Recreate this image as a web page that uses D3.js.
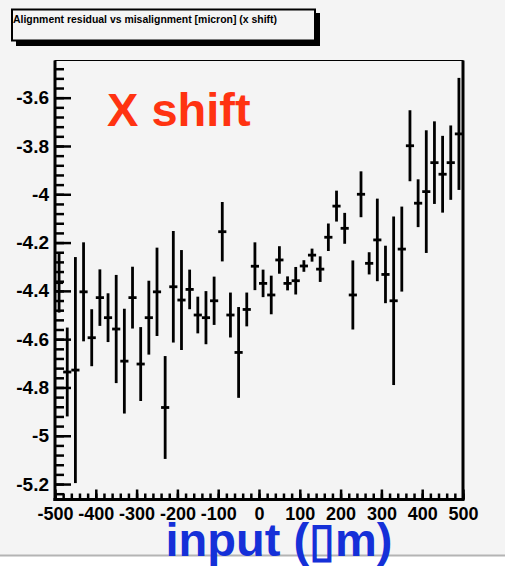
<!DOCTYPE html>
<html>
<head>
<meta charset="utf-8">
<script src="https://cdn.jsdelivr.net/npm/d3@7/dist/d3.min.js"></script>
<style>
  html, body { margin: 0; padding: 0; background: #ffffff; }
  svg { display: block; }
  text { font-family: "Liberation Sans", Arial, Helvetica, sans-serif; }
</style>
</head>
<body>
<script>
// ---------- data ----------
const title = "Alignment residual vs misalignment [micron] (x shift)";
const annotation = "X shift";
const xTitle = "input (\u25AFm)";
const xInput = [-490,-470,-450,-430,-410,-390,-370,-350,-330,-310,
                -290,-270,-250,-230,-210,-190,-170,-150,-130,-110,
                -90,-70,-50,-30,-10,10,30,50,70,90,
                110,130,150,170,190,210,230,250,270,290,
                310,330,350,370,390,410,430,450,470,490];
const xErr = [10,10,10,10,10,10,10,10,10,10,10,10,10,10,10,10,10,10,10,10,10,10,10,10,10,
              10,10,10,10,10,10,10,10,10,10,10,10,10,10,10,10,10,10,10,10,10,10,10,10,10];
const residual = [-4.366,-4.736,-4.728,-4.404,-4.594,-4.428,-4.511,-4.558,-4.691,-4.428,
                  -4.703,-4.511,-4.404,-4.883,-4.383,-4.438,-4.394,-4.500,-4.511,-4.441,
                  -4.155,-4.500,-4.655,-4.477,-4.298,-4.369,-4.417,-4.272,-4.369,-4.358,
                  -4.297,-4.252,-4.310,-4.178,-4.049,-4.141,-4.417,-4.000,-4.286,-4.189,
                  -4.332,-4.441,-4.227,-3.799,-4.037,-3.989,-3.869,-3.917,-3.869,-3.750];
const residualErr = [0.124,0.184,0.468,0.205,0.118,0.117,0.101,0.224,0.217,0.128,
                     0.153,0.153,0.183,0.213,0.231,0.207,0.082,0.076,0.110,0.100,
                     0.123,0.093,0.188,0.070,0.099,0.057,0.080,0.057,0.029,0.057,
                     0.024,0.027,0.053,0.057,0.064,0.064,0.143,0.095,0.046,0.171,
                     0.119,0.349,0.176,0.147,0.099,0.254,0.171,0.159,0.154,0.232];
const xTickValues = [-500,-400,-300,-200,-100,0,100,200,300,400,500];
const yTickValues = [-5.2,-5.0,-4.8,-4.6,-4.4,-4.2,-4.0,-3.8,-3.6];
const xDomain = [-500, 500];
const yDomain = [-5.264, -3.446];

// ---------- layout ----------
const W = 505, H = 566;
const L = 55, R = 463, T = 60.5, B = 499.5;
const bg = "#f4f4f4";

const svg = d3.select("body").append("svg").attr("width", W).attr("height", H);
svg.append("rect").attr("width", W).attr("height", 555).attr("fill", bg);
svg.append("line").attr("x1", 0).attr("x2", W).attr("y1", 555.5).attr("y2", 555.5)
   .attr("stroke", "#b4b4b4").attr("stroke-width", 2);

const x = d3.scaleLinear().domain(xDomain).range([L, R]);
const y = d3.scaleLinear().domain(yDomain).range([B, T]);

// frame
svg.append("rect").attr("x", L).attr("y", T).attr("width", R - L).attr("height", B - T)
   .attr("fill", "none").attr("stroke", "#000").attr("stroke-width", 1);
svg.append("line").attr("x1", R).attr("x2", R).attr("y1", T).attr("y2", B)
   .attr("stroke", "#000").attr("stroke-width", 3);

// minor ticks
const yMinor = d3.range(Math.ceil(yDomain[0] / 0.04), Math.floor(yDomain[1] / 0.04) + 1)
   .map(k => +(k * 0.04).toFixed(2));
const xMinor = d3.range(-500, 501, 20);

const fmt = d => String(+(+d).toFixed(1));

const xAxisMinor = d3.axisBottom(x).tickValues(xMinor).tickSize(-6).tickFormat("");
const xAxis = d3.axisBottom(x).tickValues(xTickValues).tickSize(-10).tickPadding(8).tickFormat(fmt);
const yAxisMinor = d3.axisLeft(y).tickValues(yMinor).tickSize(-9).tickFormat("");
const yAxis = d3.axisLeft(y).tickValues(yTickValues).tickSize(-16).tickPadding(6).tickFormat(fmt);

function style(g, fs) {
  g.select(".domain").remove();
  g.selectAll(".tick line").attr("stroke", "#000").attr("stroke-width", 2.5);
  g.selectAll(".tick text").attr("fill", "#000").attr("font-size", fs).attr("font-weight", "bold");
}
svg.append("g").attr("transform", `translate(0,${B})`).call(xAxisMinor).call(style, 18);
svg.append("g").attr("transform", `translate(0,${B})`).call(xAxis).call(style, 18)
   .selectAll(".tick text").attr("dy", "0.72em");
svg.append("g").attr("transform", `translate(${L},0)`).call(yAxisMinor).call(style, 19);
svg.append("g").attr("transform", `translate(${L},0)`).call(yAxis).call(style, 19);

// axis lines (thick)
svg.append("line").attr("x1", L).attr("x2", L).attr("y1", T).attr("y2", B + 1.5)
   .attr("stroke", "#000").attr("stroke-width", 3);
svg.append("line").attr("x1", L - 1.5).attr("x2", R + 1.5).attr("y1", B).attr("y2", B)
   .attr("stroke", "#000").attr("stroke-width", 3);

// error bars
const pts = xInput.map((xv, i) => ({x: xv, ex: xErr[i], y: residual[i], ey: residualErr[i]}));
const g = svg.append("g");
g.selectAll(".v").data(pts).join("line")
  .attr("x1", d => x(d.x)).attr("x2", d => x(d.x))
  .attr("y1", d => y(d.y - d.ey)).attr("y2", d => y(d.y + d.ey))
  .attr("stroke", "#000").attr("stroke-width", 2.8);
g.selectAll(".h").data(pts).join("line")
  .attr("x1", d => x(d.x - d.ex)).attr("x2", d => x(d.x + d.ex))
  .attr("y1", d => y(d.y)).attr("y2", d => y(d.y))
  .attr("stroke", "#000").attr("stroke-width", 2.8);

// annotation
svg.append("text").attr("x", 107).attr("y", 126).text(annotation)
   .attr("font-size", 47).attr("font-weight", "bold").attr("fill", "#ff3311");

// x title
svg.append("text").attr("x", 279).attr("y", 556).attr("text-anchor", "middle").text(xTitle)
   .attr("font-size", 47).attr("font-weight", "bold").attr("fill", "#1530d8");

// title box with shadow
svg.append("rect").attr("x", 16).attr("y", 13).attr("width", 304).attr("height", 33).attr("fill", "#000");
svg.append("rect").attr("x", 12).attr("y", 9.5).attr("width", 303).attr("height", 31)
   .attr("fill", bg).attr("stroke", "#000").attr("stroke-width", 2);
svg.append("text").attr("x", 13).attr("y", 23).text(title)
   .attr("font-size", 11).attr("font-weight", "bold").attr("fill", "#000")
   .attr("textLength", 264).attr("lengthAdjust", "spacingAndGlyphs");
</script>
</body>
</html>
